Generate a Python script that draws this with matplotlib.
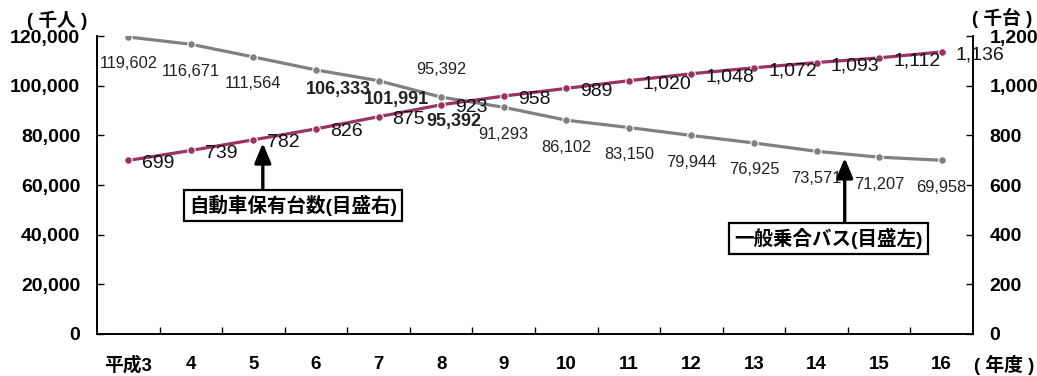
import numpy as np
import matplotlib
matplotlib.use('Agg')
import matplotlib.pyplot as plt
from matplotlib.ticker import FuncFormatter

plt.rcParams['font.family'] = ['Liberation Sans', 'Noto Sans CJK JP']

# data
years = ['平成3', '4', '5', '6', '7', '8', '9', '10', '11', '12', '13', '14', '15', '16']
bus = [119602, 116671, 111564, 106333, 101991, 95392, 91293, 86102,
       83150, 79944, 76925, 73571, 71207, 69958]      # 千人, left axis
cars = [699, 739, 782, 826, 875, 923, 958, 989,
        1020, 1048, 1072, 1093, 1112, 1136]           # 千台, right axis

GRAY = '#808080'
PURPLE = '#993366'

# label offsets in pixels (dx, dy)
bus_off = [(0, -27)] * 14
bus_off[3] = (22, -20)
bus_off[4] = (18, -19)
bus_off[5] = (13, -24)
bus_bold = {3, 4, 5}

fig = plt.figure(figsize=(10.37, 3.76), dpi=100)
ax = fig.add_axes([97 / 1037, 42 / 376, 876 / 1037, 298 / 376])
ax2 = ax.twinx()

x = np.arange(len(years))

ax.plot(x, bus, color=GRAY, lw=2.3, marker='o', ms=5.5,
        mec='white', mew=0.8, zorder=3)
ax2.plot(x, cars, color=PURPLE, lw=2.3, marker='o', ms=5.5,
         mec='white', mew=0.8, zorder=3)

for i, v in enumerate(bus):
    dx, dy = bus_off[i]
    bold = i in bus_bold
    ax.annotate(f'{v:,}', (x[i], v), xytext=(dx, dy), textcoords='offset pixels',
                ha='center', va='center', fontsize=13 if bold else 11.8,
                fontweight='bold' if bold else 'normal', color='#222222')
# second label sitting above the 平成8 point
ax.annotate(f'{bus[5]:,}', (x[5], bus[5]), xytext=(0, 28), textcoords='offset pixels',
            ha='center', va='center', fontsize=11.8, color='#222222')

for i, v in enumerate(cars):
    ax2.annotate(f'{v:,}', (x[i], v), xytext=(14, -3), textcoords='offset pixels',
                 ha='left', va='center', fontsize=14, color='#111111')

ax.set_xlim(-0.5, len(years) - 0.5)
ax.set_ylim(0, 120000)
ax2.set_ylim(0, 1200)
ax.set_yticks(np.arange(0, 120001, 20000))
ax2.set_yticks(np.arange(0, 1201, 200))
fmt = FuncFormatter(lambda v, p: f'{int(v):,}')
ax.yaxis.set_major_formatter(fmt)
ax2.yaxis.set_major_formatter(fmt)

ax.set_xticks(x)
ax.set_xticklabels(years)
ax.set_xticks(np.arange(0.5, len(years) - 1, 1), minor=True)
ax.tick_params(axis='x', which='major', length=0, pad=16, labelsize=13.5)
ax.tick_params(axis='x', which='minor', direction='in', length=5, width=1)
for lab in ax.get_xticklabels():
    lab.set_fontweight('bold')

ax.tick_params(axis='y', direction='in', length=5, width=1, pad=12, labelsize=14)
ax2.tick_params(axis='y', direction='in', length=5, width=1, pad=12, labelsize=14)
for lab in ax.get_yticklabels() + ax2.get_yticklabels():
    lab.set_fontweight('bold')

for a in (ax, ax2):
    a.spines['top'].set_visible(False)
    for s in ('left', 'right', 'bottom'):
        a.spines[s].set_linewidth(1.2)

# unit labels
fig.text(57 / 1037, 1 - 20 / 376, '( 千人 )', ha='center', va='center',
         fontsize=13.5, fontweight='bold')
fig.text(1002 / 1037, 1 - 18 / 376, '( 千台 )', ha='center', va='center',
         fontsize=13.5, fontweight='bold')
fig.text(1004 / 1037, 1 - 365 / 376, '( 年度 )', ha='center', va='center',
         fontsize=13.5, fontweight='bold')

# legend boxes with arrows
box = dict(boxstyle='square,pad=0.25', fc='white', ec='black', lw=1.6)
ax.text(2.63, 51700, '自動車保有台数(目盛右)', ha='center', va='center',
        fontsize=14, fontweight='bold', bbox=box, zorder=5)
ax.annotate('', xy=(2.15, 76900), xytext=(2.15, 57200),
            arrowprops=dict(arrowstyle='-|>,head_length=0.6,head_width=0.25',
                            mutation_scale=20, lw=2.4, color='black',
                            shrinkA=0, shrinkB=0))
ax.text(11.19, 38300, '一般乗合バス(目盛左)', ha='center', va='center',
        fontsize=14, fontweight='bold', bbox=box, zorder=5)
ax.annotate('', xy=(11.45, 70900), xytext=(11.45, 43900),
            arrowprops=dict(arrowstyle='-|>,head_length=0.6,head_width=0.25',
                            mutation_scale=20, lw=2.4, color='black',
                            shrinkA=0, shrinkB=0))

fig.savefig('out.png', dpi=100)
